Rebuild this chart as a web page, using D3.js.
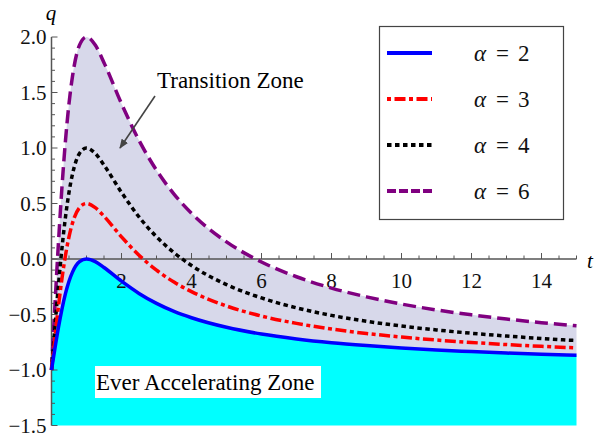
<!DOCTYPE html>
<html><head><meta charset="utf-8">
<script src="https://cdn.jsdelivr.net/npm/d3@7"></script>
<style>body{margin:0;background:#fff}svg{display:block}</style>
</head><body><svg id="c" width="594" height="437" font-family="'Liberation Serif', 'DejaVu Serif', serif"></svg>
<script>
const tValues = [0,0.1,0.2,0.3,0.4,0.5,0.6,0.8,1,1.25,1.5,2,2.5,3,3.5,4,5,6,7,8,9,10,11,12,13,14,15];
const qAlpha2 = [-1,-0.802,-0.615,-0.450,-0.310,-0.200,-0.118,-0.024,0,-0.024,-0.077,-0.200,-0.310,-0.400,-0.472,-0.529,-0.615,-0.676,-0.720,-0.754,-0.780,-0.802,-0.820,-0.834,-0.847,-0.858,-0.867];
const qAlpha3 = [-1,-0.703,-0.423,-0.174,0.034,0.200,0.324,0.463,0.500,0.463,0.385,0.200,0.034,-0.100,-0.208,-0.294,-0.423,-0.514,-0.580,-0.631,-0.671,-0.703,-0.730,-0.752,-0.771,-0.787,-0.801];
const qAlpha4 = [-1,-0.604,-0.231,0.101,0.379,0.600,0.765,0.951,1.000,0.951,0.846,0.600,0.379,0.200,0.057,-0.059,-0.231,-0.351,-0.440,-0.508,-0.561,-0.604,-0.639,-0.669,-0.694,-0.716,-0.735];
const qAlpha6 = [-1,-0.406,0.154,0.651,1.069,1.400,1.647,1.927,2.000,1.927,1.769,1.400,1.069,0.800,0.585,0.412,0.154,-0.027,-0.160,-0.262,-0.341,-0.406,-0.459,-0.503,-0.541,-0.574,-0.602];
const legendLabels = ["2","3","4","6"];
const xTickLabels = [2,4,6,8,10,12,14];
const yTickLabels = [-1.5,-1.0,-0.5,0.0,0.5,1.0,1.5,2.0];

const FONT = "'Liberation Serif', 'DejaVu Serif', serif";
const svg = d3.select("#c");
const x = d3.scaleLinear().domain([0,15]).range([51.5,576.5]);
const y = d3.scaleLinear().domain([-1.5,2]).range([425.5,37]);

const pts = arr => arr.map((v,i)=>({t:tValues[i], q:v}));
const curve = d3.curveMonotoneX;

// fills
const lav = tValues.map((t,i)=>({t, lo:qAlpha2[i], hi:qAlpha6[i]}));
svg.append("path").datum(lav)
  .attr("d", d3.area().curve(curve).x(d=>x(d.t)).y0(d=>y(d.lo)).y1(d=>y(d.hi)))
  .attr("fill","#d7d8ea");
svg.append("path").datum(pts(qAlpha2))
  .attr("d", d3.area().curve(curve).x(d=>x(d.t)).y0(y(-1.5)).y1(d=>y(d.q)))
  .attr("fill","#00ffff");

// axes
const axCol = "#555";
const gx = svg.append("g").attr("transform",`translate(0,${y(0)})`);
gx.append("line").attr("x1",x(0)).attr("x2",x(15)).attr("stroke",axCol).attr("stroke-width",1.5);
d3.range(1,31).forEach(i=>{
  const v=i*0.5, major = (i%4===0);
  gx.append("line").attr("x1",x(v)).attr("x2",x(v)).attr("y1",0).attr("y2",major?-6:-3.5)
    .attr("stroke",axCol).attr("stroke-width",1);
});
gx.selectAll("text.xl").data(xTickLabels).enter().append("text")
  .attr("font-family",FONT)
  .attr("x",d=>x(d)).attr("y",29).attr("text-anchor","middle").attr("font-size",21).attr("fill","#111").text(d=>d);

const gy = svg.append("g").attr("transform",`translate(${x(0)},0)`);
gy.append("line").attr("y1",y(-1.5)).attr("y2",y(2)).attr("stroke",axCol).attr("stroke-width",1.5);
d3.range(0,36).forEach(i=>{
  const v=-1.5+i*0.1, major=(i%5===0);
  gy.append("line").attr("y1",y(v)).attr("y2",y(v)).attr("x1",0).attr("x2",major?6:3.5)
    .attr("stroke",axCol).attr("stroke-width",1);
});
gy.selectAll("text.yl").data(yTickLabels).enter().append("text")
  .attr("font-family",FONT)
  .attr("x",-5).attr("y",d=>y(d)+7).attr("text-anchor","end").attr("font-size",21).attr("fill","#111")
  .text(d=>(d<0?"\u2212":"")+Math.abs(d).toFixed(1));

svg.append("text").attr("font-family",FONT).attr("x",51).attr("y",20).attr("text-anchor","middle").attr("font-size",21).attr("font-style","italic").text("q");
svg.append("text").attr("font-family",FONT).attr("x",587).attr("y",268).attr("font-size",21).attr("font-style","italic").text("t");

// curves
const line = d3.line().curve(curve).x(d=>x(d.t)).y(d=>y(d.q));
const series = [
  {data:qAlpha2, color:"#0000ff", dash:null, ldash:null, w:3.5},
  {data:qAlpha3, color:"#ff0000", dash:"11,3.5,4,3.5", ldash:"4,3.5,11,3.5", w:3.5},
  {data:qAlpha4, color:"#000000", dash:"4.5,3.5", ldash:"4.5,3.5", w:3.5},
  {data:qAlpha6, color:"#800080", dash:"13,6", ldash:"9,3", w:3.5}
];
series.slice().reverse().forEach(s=>{
  svg.append("path").datum(pts(s.data)).attr("d",line).attr("fill","none")
    .attr("stroke",s.color).attr("stroke-width",s.w).attr("stroke-dasharray",s.dash);
});

// annotations
svg.append("defs").append("marker").attr("id","ah").attr("viewBox","0 0 10 10").attr("refX",9).attr("refY",5)
  .attr("markerWidth",6).attr("markerHeight",6).attr("markerUnits","strokeWidth").attr("orient","auto")
  .append("path").attr("d","M0,1 L10,5 L0,9 Z").attr("fill","#444");
svg.append("line").attr("x1",155).attr("y1",96).attr("x2",120).attr("y2",148)
  .attr("stroke","#444").attr("stroke-width",1.6).attr("marker-end","url(#ah)");
svg.append("text").attr("font-family",FONT).attr("x",157).attr("y",88).attr("font-size",23).text("Transition Zone");
svg.append("rect").attr("x",95).attr("y",366).attr("width",226).attr("height",32).attr("fill","#fff");
svg.append("text").attr("font-family",FONT).attr("x",96).attr("y",390).attr("font-size",23).text("Ever Accelerating Zone");

// legend
const lg = svg.append("g");
lg.append("rect").attr("x",379.5).attr("y",26.5).attr("width",184).attr("height",193)
  .attr("fill","#fff").attr("stroke","#444").attr("stroke-width",1.2);
const rowY = [53,99,145,191];
series.forEach((s,i)=>{
  lg.append("line").attr("x1",387).attr("x2",432).attr("y1",rowY[i]).attr("y2",rowY[i])
    .attr("stroke",s.color).attr("stroke-width",4).attr("stroke-dasharray",s.ldash);
  const t = lg.append("text").attr("font-family",FONT).attr("y",rowY[i]+8).attr("font-size",23).attr("fill","#111");
  t.append("tspan").attr("x",474).attr("font-style","italic").text("\u03b1");
  t.append("tspan").attr("x",496).text("=");
  t.append("tspan").attr("x",518).text(legendLabels[i]);
});
</script></body></html>
